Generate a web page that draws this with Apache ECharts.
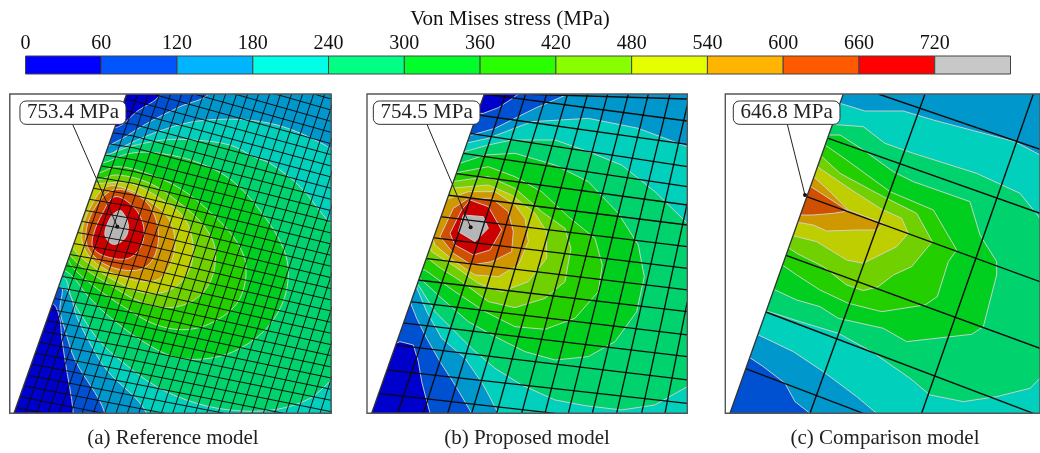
<!DOCTYPE html>
<html><head><meta charset="utf-8">
<style>html,body{margin:0;padding:0;background:#fff}#c{width:1040px;height:453px}</style>
<script src="https://cdn.jsdelivr.net/npm/echarts@6/dist/echarts.min.js"></script>
</head><body><div id="c"></div>
<script>
const legendTicks=[0,60,120,180,240,300,360,420,480,540,600,660,720,780];
const legendColors=['#0000ff','#0055ff','#00b4ff','#00ffe6','#00ff84','#00ff2a','#2aff00','#88ff00','#e6ff00','#ffb400','#ff5a00','#ff0000','#c8c8c8'];
const c0='#0000cd',c60='#0050d2',c120='#0098cc',c180='#00d0bc',c240='#00d26e',c300='#00cf20',c360='#24cf00',c420='#70d000',c480='#bfce00',c540='#cf9800',c600='#cf5000',c660='#cc0000',c720='#b5b5b5';

// Panel (a): contour bands, outermost first
const bandsA=[
 [c120,[[0,0],[1100,0],[1100,1100],[0,1100]]],
 [c60,[[330,180],[450,110],[540,65],[625,27],[600,-20],[300,-20],[300,180]]],
 [c0,[[355,125],[410,80],[480,30],[480,-20],[300,-20],[300,125]]],
 [c60,[[180,600],[180,675],[195,735],[225,825],[315,985],[315,1100],[0,1100],[0,600]]],
 [c0,[[155,655],[178,695],[185,755],[195,825],[220,985],[220,1100],[0,1100],[0,655]]],
 [c180,[[300,225],[360,190],[460,145],[580,110],[710,103],[810,115],[890,140],[975,180],[993,190],[1100,200],[1100,1100],[440,1100],[440,985],[320,855],[270,775],[230,695],[200,615],[100,590],[100,225]]],
 [c240,[[310,210],[390,185],[490,165],[580,165],[690,180],[760,215],[810,235],[900,305],[992,415],[1100,500],[1100,800],[995,885],[930,940],[830,973],[710,977],[590,955],[470,905],[360,825],[300,770],[250,700],[215,640],[190,575],[100,560],[100,210]]],
 [c300,[[300,235],[390,205],[480,205],[600,235],[700,290],[790,390],[850,490],[865,570],[845,660],[790,740],[700,800],[610,822],[520,815],[430,770],[340,705],[270,640],[200,560],[100,530],[100,235]]],
 [c360,[[290,265],[350,245],[440,265],[540,310],[640,390],[710,470],[738,545],[720,640],[660,700],[570,733],[470,720],[370,665],[290,610],[220,550],[190,510],[100,500],[100,265]]],
 [c420,[[290,285],[350,270],[450,295],[540,355],[610,420],[645,490],[635,580],[590,640],[510,668],[420,650],[330,600],[260,555],[210,510],[200,470],[100,470],[100,285]]],
 [c480,[[300,295],[390,295],[480,340],[550,395],[578,470],[570,550],[520,610],[440,625],[350,590],[280,545],[220,490],[215,430],[100,430],[100,295]]],
 [c540,[[320,305],[390,315],[450,350],[505,400],[525,470],[510,540],[470,585],[400,585],[320,555],[265,510],[245,450],[270,370]]],
 [c600,[[340,315],[400,325],[450,365],[475,440],[465,510],[430,550],[370,555],[310,535],[265,490],[260,430],[290,360]]],
 [c660,[[345,335],[400,365],[430,420],[425,480],[385,520],[320,515],[280,490],[280,450],[310,380]]],
 [c720,[[365,378],[385,420],[375,460],[340,478],[315,450],[330,400],[350,380]]]
];
// mesh of panel (a): the long lines are read at x=30, x=400 and x=993
const meshLeftYA=[964,929,894,860,825,790,755,720,686,651,616,581,546,512,477,442,407,372,338,303,268,233,198,164,129,94,59,24,-10,-45,-80,-115,-150,-184,-219];
const meshMidYA=[1038,1003,967,932,896,861,826,790,755,719,684,649,613,578,542,507,472,436,401,365,330,295,259,224,188,153,118,82,47,11,-24,-59,-95,-130,-166];
const meshRightYA=[1147,1114,1080,1047,1013,980,946,913,879,846,812,779,745,712,678,645,611,578,544,511,477,444,410,377,343,310,276,243,209,176,142,109,75,42,8];
const meshBottomXA=[76,110,144,178,212,246,280,314,348,382,416,450,484,518,552,586,620,654,688,722,756,790,824,858,892,926,960,994];
const meshTopXA=[413,446,479,512,545,578,611,644,677,710,743,776,809,842,875,908,941,974,1007,1040,1073,1106,1139,1172,1205,1238,1271,1304];
const meshA=[
 ...meshLeftYA.map((y,i)=>[30,y,400,meshMidYA[i],993,meshRightYA[i]]),
 ...meshBottomXA.map((x,i)=>[x,985,meshTopXA[i],27])
];

// Panel (b)
const bandsB=[
 [c120,[[0,0],[1100,0],[1100,1100],[0,1100]]],
 [c60,[[350,150],[420,130],[470,105],[540,70],[640,27],[640,-20],[300,-20],[300,150]]],
 [c0,[[385,85],[430,68],[465,45],[490,27],[490,-20],[300,-20],[300,85]]],
 [c60,[[165,650],[185,700],[215,760],[255,830],[300,900],[350,985],[350,1100],[0,1100],[0,650]]],
 [c0,[[110,780],[135,770],[175,780],[190,830],[200,890],[225,985],[225,1100],[0,1100],[0,780]]],
 [c180,[[330,175],[400,160],[530,110],[700,100],[850,130],[997,185],[1100,200],[1100,1100],[430,1100],[430,985],[385,900],[330,820],[260,760],[215,680],[180,595],[100,590],[100,175]]],
 [c240,[[310,205],[400,180],[470,165],[600,165],[700,200],[800,240],[900,320],[997,415],[1100,500],[1100,850],[997,905],[900,960],[800,975],[690,962],[600,945],[500,900],[420,850],[350,790],[290,730],[240,680],[190,600],[100,590],[100,205]]],
 [c300,[[300,240],[390,210],[480,205],[600,240],[700,290],[790,385],[850,480],[868,575],[845,680],[780,770],[700,815],[600,825],[510,800],[420,755],[340,710],[260,640],[195,580],[100,570],[100,240]]],
 [c360,[[295,265],[400,245],[480,275],[560,320],[640,395],[720,460],[742,540],[730,620],[660,700],[570,733],[480,725],[390,680],[300,620],[210,555],[100,550],[100,265]]],
 [c420,[[290,290],[400,275],[480,310],[560,380],[630,430],[648,490],[630,590],[570,640],[480,668],[400,650],[320,590],[250,545],[200,505],[100,505],[100,290]]],
 [c480,[[280,310],[400,300],[470,330],[540,385],[575,440],[575,520],[520,590],[440,620],[370,595],[300,545],[230,500],[220,470],[100,470],[100,310]]],
 [c540,[[270,345],[340,320],[420,320],[480,360],[510,400],[520,470],[490,540],[430,575],[360,570],[300,530],[240,480],[230,450],[100,450],[100,345]]],
 [c600,[[295,370],[340,340],[410,340],[460,380],[475,440],[470,500],[410,530],[350,540],[295,505],[255,455]]],
 [c660,[[320,375],[345,345],[400,365],[440,435],[405,495],[355,510],[300,480],[285,445]]],
 [c720,[[325,390],[385,395],[400,430],[360,470],[310,440]]]
];
const meshB=[
 [452,27,128,985],[512,27,205,985],[575,27,278,985],[638,27,350,985],[698,27,425,985],[758,27,500,985],[820,27,570,985],[880,27,640,985],[945,27,712,985],[997,60,785,985],[997,354,860,985],[997,650,930,985],
 [500,27,997,42],[388,27,997,108],[370,90,997,178],[345,145,997,245],[325,205,997,305],[300,265,997,360],[275,330,997,420],[255,395,997,485],[232,458,997,550],[210,520,997,615],[188,585,997,680],[165,650,997,750],[130,712,997,815],[118,780,997,885],[95,855,997,955],[70,925,600,985]
];

// Panel (c)
const bandsC=[
 [c120,[[0,0],[1100,0],[1100,1100],[0,1100]]],
 [c60,[[145,815],[190,845],[255,895],[285,950],[330,985],[330,1100],[0,1100],[0,815]]],
 [c180,[[420,55],[495,78],[610,78],[700,105],[945,170],[1020,210],[1100,210],[1100,1100],[530,1100],[530,985],[470,935],[370,860],[280,800],[165,745],[100,745],[300,55]]],
 [c240,[[395,118],[490,125],[555,175],[640,205],[830,265],[960,325],[1020,400],[1100,500],[1100,800],[1020,880],[990,910],[890,935],[790,950],[690,930],[630,880],[515,800],[415,745],[300,710],[190,675],[100,675],[100,118]]],
 [c300,[[380,150],[420,150],[490,195],[580,260],[640,290],[810,350],[840,450],[890,530],[890,570],[850,725],[815,748],[620,770],[550,730],[415,700],[360,665],[290,645],[215,610],[100,610],[100,150]]],
 [c360,[[368,175],[440,225],[570,320],[700,375],[770,495],[745,530],[712,635],[675,660],[545,680],[445,655],[360,615],[290,570],[240,535],[100,535],[100,175]]],
 [c420,[[355,205],[420,265],[550,335],[650,385],[697,470],[635,545],[580,570],[535,605],[490,617],[440,600],[370,545],[290,505],[260,485],[100,485],[100,205]]],
 [c480,[[345,240],[440,305],[540,370],[605,400],[625,445],[590,485],[490,535],[440,525],[350,470],[270,450],[100,450],[100,240]]],
 [c540,[[335,270],[390,320],[445,375],[550,415],[530,435],[470,435],[380,438],[340,420],[280,410],[100,410],[100,270]]],
 [c600,[[325,300],[445,378],[400,385],[340,390],[290,390],[200,390],[200,300]]]
];
const meshC=[
 [675,27,330,985],[1000,27,665,985],
 [535,27,1020,193],[385,160,1020,385],[320,335,1020,590],[250,508,1020,790],[190,678,1000,985],[135,850,490,985]
];

const panels=[
 {left:9.8,width:321.2,xr:[29.5,993],edge:[[380,27],[42,985]],bands:bandsA,mesh:meshA,meshW:0.95,smooth:0.35,
  label:'753.4 MPa',box:[60,48,378,118],lead:[218,118],dot:[352,425],cap:'(a) Reference model',capX:173},
 {left:367,width:320.3,xr:[36,997],edge:[[388,27],[50,985]],bands:bandsB,mesh:meshB,meshW:1.3,smooth:0,
  label:'754.5 MPa',box:[55,48,375,118],lead:[216,118],dot:[347,427],cap:'(b) Proposed model',capX:527},
 {left:725.3,width:314.7,xr:[76,1020],edge:[[430,27],[90,985]],bands:bandsC,mesh:meshC,meshW:1.4,smooth:0,
  label:'646.8 MPa',box:[100,48,420,118],lead:[262,118],dot:[315,330],cap:'(c) Comparison model',capX:885}
];
const FONT='"Liberation Serif","Times New Roman",serif';
const grids=[],xAxes=[],yAxes=[],series=[],titles=[];

// colour legend grid
grids.push({left:25.5,top:56,width:985,height:18});
xAxes.push({type:'value',gridIndex:0,min:0,max:780,interval:60,position:'top',
 name:'Von Mises stress (MPa)',nameLocation:'middle',nameGap:26,
 nameTextStyle:{fontFamily:FONT,fontSize:21,color:'#111',padding:[0,16,0,0]},
 axisLine:{show:false},axisTick:{show:false},splitLine:{show:false},
 axisLabel:{fontFamily:FONT,fontSize:20,color:'#111',margin:2,showMaxLabel:false,
  formatter:v=>legendTicks.indexOf(v)>=0&&v<780?String(v):''}});
yAxes.push({type:'value',gridIndex:0,min:0,max:1,show:false});
series.push({type:'custom',coordinateSystem:'cartesian2d',xAxisIndex:0,yAxisIndex:0,silent:true,clip:false,
 data:legendColors.map((c,i)=>[legendTicks[i],legendTicks[i+1]]),
 renderItem:(p,api)=>{
  const a=api.coord([api.value(0),1]),b=api.coord([api.value(1),0]);
  return {type:'rect',shape:{x:a[0],y:a[1],width:b[0]-a[0],height:b[1]-a[1]},
   style:{fill:legendColors[p.dataIndex],stroke:'#444',lineWidth:1}};
 }});

panels.forEach((P,k)=>{
 const g=k+1;
 grids.push({left:P.left,top:94,width:P.width,height:319.3});
 xAxes.push({type:'value',gridIndex:g,min:P.xr[0],max:P.xr[1],show:false});
 yAxes.push({type:'value',gridIndex:g,min:27,max:985,inverse:true,show:false});
 const base={type:'custom',coordinateSystem:'cartesian2d',xAxisIndex:g,yAxisIndex:g,silent:true};
 // contour bands
 series.push({...base,clip:true,data:P.bands.map((b,i)=>[P.xr[0],27,i]),
  encode:{x:0,y:1},
  renderItem:(p,api)=>({type:'polygon',shape:{points:P.bands[p.dataIndex][1].map(q=>api.coord(q)),smooth:p.dataIndex?P.smooth:0},
    style:{fill:P.bands[p.dataIndex][0],stroke:p.dataIndex?'#d4d4d4':'none',lineWidth:0.9}})});
 // mesh: each row is a run of x,y pairs
 series.push({...base,clip:true,data:P.mesh.map(m=>[P.xr[0],27]),encode:{x:0,y:1},
  renderItem:(p,api)=>{const m=P.mesh[p.dataIndex],pts=[];
   for(let i=0;i<m.length;i+=2)pts.push(api.coord([m[i],m[i+1]]));
   return {type:'polyline',shape:{points:pts},style:{fill:'none',stroke:'#0c0c0c',lineWidth:P.meshW}};}});
 // blank region left of the model, its edge, the frame, the callout
 const mask=[[P.xr[0],27],P.edge[0],P.edge[1],[P.xr[0],985]];
 series.push({...base,clip:false,data:[[P.xr[0],27]],encode:{x:0,y:1},
  renderItem:(p,api)=>{
   const [x0,y0]=api.coord([P.xr[0],27]),[x1,y1]=api.coord([P.xr[1],985]);
   const e0=api.coord(P.edge[0]),e1=api.coord(P.edge[1]);
   const bt=api.coord([P.box[0],P.box[1]]),bb=api.coord([P.box[2],P.box[3]]);
   const l0=api.coord(P.lead),d=api.coord(P.dot);
   return {type:'group',children:[
    {type:'polygon',shape:{points:mask.map(q=>api.coord(q))},style:{fill:'#fff'}},
    {type:'line',shape:{x1:e0[0],y1:e0[1],x2:e1[0],y2:e1[1]},style:{stroke:'#333',lineWidth:1.3}},
    {type:'rect',shape:{x:x0,y:y0,width:x1-x0,height:y1-y0},style:{fill:'none',stroke:'#555',lineWidth:1.4}},
    {type:'line',shape:{x1:l0[0],y1:l0[1],x2:d[0],y2:d[1]},style:{stroke:'#222',lineWidth:1}},
    {type:'circle',shape:{cx:d[0],cy:d[1],r:2},style:{fill:'#111'}},
    {type:'rect',shape:{x:bt[0],y:bt[1],width:bb[0]-bt[0],height:bb[1]-bt[1],r:6},style:{fill:'#fff',stroke:'#333',lineWidth:1}},
    {type:'text',style:{x:(bt[0]+bb[0])/2,y:(bt[1]+bb[1])/2,text:P.label,align:'center',verticalAlign:'middle',
      fontFamily:FONT,fontSize:21,fill:'#222'}}
   ]};
  }});
 titles.push({text:P.cap,left:P.capX,top:428,textAlign:'center',padding:0,
  textStyle:{fontFamily:FONT,fontSize:21,fontWeight:'normal',color:'#222'}});
});

const chart=echarts.init(document.getElementById('c'),null,{renderer:'canvas'});
chart.setOption({animation:false,backgroundColor:'#fff',title:titles,grid:grids,xAxis:xAxes,yAxis:yAxes,series,tooltip:{show:false}});
</script></body></html>
